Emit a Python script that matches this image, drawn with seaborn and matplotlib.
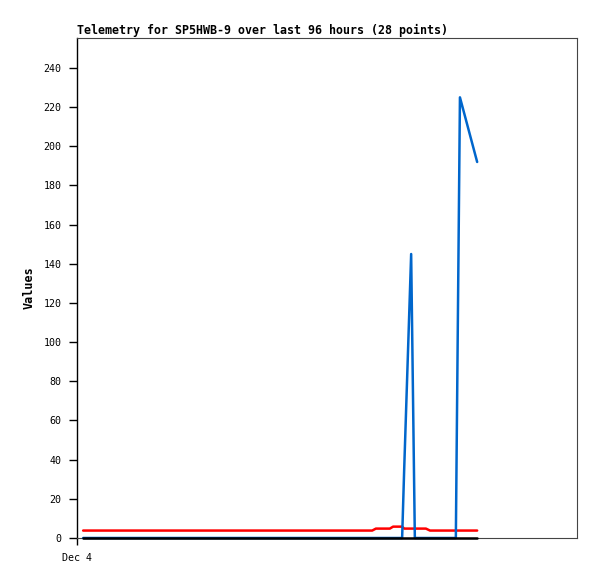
import numpy as np
import pandas as pd
import matplotlib
matplotlib.use("Agg")
import matplotlib.pyplot as plt
import seaborn as sns

# hours since the start of the window (28 samples)
hours = [1.5, 5.6, 10.5, 15.4, 20.2, 25.1, 30.0, 34.9, 39.8, 44.6,
         49.5, 54.4, 59.3, 64.1, 69.0, 72.0, 72.9, 76.3, 77.1, 79.3,
         79.8, 81.5, 82.4, 85.1, 86.1, 92.4, 93.4, 97.6]

# three telemetry channels
black_vals = [0] * 28
red_vals = [3.8] * 16 + [4.8, 4.8, 5.8, 5.8, 4.8, 4.8, 4.8, 4.8, 3.8, 3.8, 3.8, 3.8]
blue_vals = [0] * 20 + [35, 145, 0, 0, 0, 0, 225, 192]

x_ticks = [0]
x_tick_labels = ["Dec 4"]
y_ticks = list(range(0, 241, 20))

df = pd.DataFrame({
    "hour": hours * 3,
    "value": black_vals + red_vals + blue_vals,
    "channel": ["black"] * 28 + ["red"] * 28 + ["blue"] * 28,
})

sns.set_style("white")
plt.rcParams["font.family"] = ["DejaVu Sans Mono"]
plt.rcParams["text.color"] = "black"
plt.rcParams["axes.labelcolor"] = "black"
plt.rcParams["xtick.color"] = "black"
plt.rcParams["ytick.color"] = "black"

fig = plt.figure(figsize=(5.97, 5.79), dpi=100)
ax = fig.add_axes([77 / 597, 41 / 579, 500 / 597, 500 / 579])

# black is drawn last so it sits on top of the zero runs
palette = {"black": "#000000", "red": "#ff0000", "blue": "#0066cc"}
sns.lineplot(data=df, x="hour", y="value", hue="channel",
             hue_order=["red", "blue", "black"], palette=palette,
             linewidth=1.8, legend=False, ax=ax, clip_on=False, zorder=5)

ax.set_xlim(-0.0, 500 / 4.1)
ax.set_ylim(0, 255.3)
ax.set_yticks(y_ticks)
ax.set_yticklabels([str(v) for v in y_ticks], fontsize=7.2)
ax.set_xticks(x_ticks)
ax.set_xticklabels(x_tick_labels, fontsize=7.2)
ax.tick_params(axis="y", direction="out", length=6, width=1, color="black",
               pad=5, left=True)
ax.tick_params(axis="x", direction="out", length=5, width=1, color="black",
               pad=6, bottom=True)

ax.set_xlabel("")
ax.set_ylabel("Values", fontsize=8.5, fontweight="bold", labelpad=6)
ax.set_title("Telemetry for SP5HWB-9 over last 96 hours (28 points)",
             fontsize=8.4, fontweight="bold", loc="left", pad=3)

for side in ["top", "right", "bottom"]:
    ax.spines[side].set_color("#444444")
    ax.spines[side].set_linewidth(0.8)
ax.spines["left"].set_color("black")
ax.spines["left"].set_linewidth(1)

fig.savefig("out.png", dpi=100, facecolor="white")
